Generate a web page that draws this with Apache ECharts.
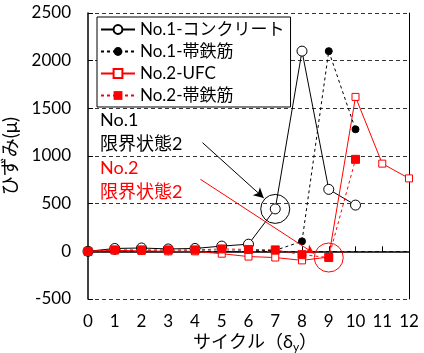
<!DOCTYPE html>
<html>
<head>
<meta charset="utf-8">
<script src="https://cdn.jsdelivr.net/npm/echarts@6/dist/echarts.min.js"></script>
<style>
  html, body { margin: 0; padding: 0; background: #fff; }
  #chart { width: 424px; height: 353px; }
</style>
</head>
<body>
<div id="chart"></div>
<script>
// Cycle number (multiples of the yield displacement δy)
const cycles = [0, 1, 2, 3, 4, 5, 6, 7, 8, 9, 10, 11, 12];

// Strain (μ) per cycle for each gauge
const no1Concrete = [0, 30, 35, 25, 30, 55, 75, 445, 2100, 650, 485];
const no1Hoop     = [0, 5, 5, 0, 5, 0, 5, 10, 105, 2100, 1280];
const no2UFC      = [0, 10, 5, 0, 0, -25, -55, -65, -95, -60, 1620, 920, 765];
const no2Hoop     = [0, 15, 15, 15, 15, 25, 20, 15, -35, -65, 965];

const seriesNames = ['No.1-コンクリート', 'No.1-帯鉄筋', 'No.2-UFC', 'No.2-帯鉄筋'];
const yTicks = { min: -500, max: 2500, step: 500 };

// cycle index at which limit state 2 is reached
const limitNo1 = 7;
const limitNo2 = 9;

const FONT = "Lato, 'Noto Sans CJK JP', sans-serif";
const RED = '#ff0000';

const pairs = vals => vals.map((v, i) => [cycles[i], v]);

const chart = echarts.init(document.getElementById('chart'), null, { renderer: 'canvas' });

const ringPoint = (x, y, color) => ({
  coord: [x, y],
  symbol: 'circle',
  symbolSize: 29,
  itemStyle: { color: 'rgba(0,0,0,0)', borderColor: color, borderWidth: 1 },
  label: { show: false }
});

chart.setOption({
  animation: false,
  textStyle: { fontFamily: FONT },
  grid: { left: 88, right: 15, top: 13, bottom: 54, containLabel: false, outerBoundsMode: 'none' },
  legend: {
    orient: 'vertical',
    left: 97, top: 17,
    padding: [4, 6, 3, 3],
    itemGap: 5,
    itemWidth: 34,
    itemHeight: 11,
    backgroundColor: '#fff',
    borderColor: '#000',
    borderWidth: 1,
    textStyle: { fontSize: 17, color: '#000', fontFamily: FONT },
    data: seriesNames
  },
  xAxis: {
    type: 'value',
    min: 0, max: 12, interval: 1,
    axisLine: { lineStyle: { color: '#000', width: 1.5 } },
    axisTick: { inside: true, length: 5, lineStyle: { color: '#000' } },
    axisLabel: { fontSize: 17, color: '#000', margin: 14, fontFamily: FONT },
    splitLine: { show: false }
  },
  yAxis: [{
    type: 'value',
    min: yTicks.min, max: yTicks.max, interval: yTicks.step,
    name: 'ひずみ(μ)',
    nameLocation: 'middle',
    nameGap: 54,
    nameRotate: 90,
    nameTextStyle: { fontSize: 19, color: '#000', fontFamily: FONT },
    axisLine: { show: true, lineStyle: { color: '#000', width: 1.5 } },
    axisTick: { show: true, inside: true, length: 5, lineStyle: { color: '#000' } },
    axisLabel: { fontSize: 17, color: '#000', margin: 17, fontFamily: FONT, formatter: v => String(v) },
    splitLine: { show: true, lineStyle: { color: '#333', type: [4, 3], width: 1 } }
  }, {
    type: 'value',
    position: 'right',
    min: yTicks.min, max: yTicks.max,
    axisLine: { show: true, lineStyle: { color: '#000', width: 1 } },
    axisTick: { show: false },
    axisLabel: { show: false },
    splitLine: { show: false }
  }],
  graphic: [
    {
      type: 'text', left: 100, top: 111,
      style: { text: 'No.1', fontSize: 18, fill: '#000', fontFamily: FONT }
    },
    {
      type: 'text', left: 100, top: 135,
      style: { text: '限界状態2', fontSize: 18, fill: '#000', fontFamily: FONT }
    },
    {
      type: 'text', left: 100, top: 159,
      style: { text: 'No.2', fontSize: 18, fill: RED, fontFamily: FONT }
    },
    {
      type: 'text', left: 100, top: 183,
      style: { text: '限界状態2', fontSize: 18, fill: RED, fontFamily: FONT }
    },
    {
      type: 'text', left: 193, top: 333,
      style: {
        text: '{a|サイクル（δ}{s|y}{a|）}',
        rich: {
          a: { fontSize: 18, fill: '#000', fontFamily: FONT },
          s: { fontSize: 12, fill: '#000', fontFamily: FONT, padding: [10, 0, 0, 0] }
        }
      }
    }
  ],
  series: [
    {
      name: seriesNames[0],
      type: 'line',
      data: pairs(no1Concrete),
      symbol: 'circle',
      symbolSize: 10,
      itemStyle: { color: '#fff', borderColor: '#000', borderWidth: 1 },
      lineStyle: { color: '#000', width: 1 },
      z: 2,
      markPoint: {
        silent: true,
        data: [ringPoint(cycles[limitNo1], no1Concrete[limitNo1], '#000')]
      },
      markLine: {
        silent: true,
        symbol: ['none', 'arrow'],
        symbolSize: [8, 10],
        label: { show: false },
        lineStyle: { color: '#000', type: 'solid', width: 1 },
        data: [[{ coord: [4.28, 1140] }, { coord: [6.57, 560] }]]
      }
    },
    {
      name: seriesNames[1],
      type: 'line',
      data: pairs(no1Hoop),
      symbol: 'circle',
      symbolSize: 7,
      itemStyle: { color: '#000', borderColor: '#000' },
      lineStyle: { color: '#000', width: 1, type: [3, 3] },
      z: 2
    },
    {
      name: seriesNames[2],
      type: 'line',
      data: pairs(no2UFC),
      symbol: 'rect',
      symbolSize: 7,
      itemStyle: { color: '#fff', borderColor: RED, borderWidth: 1 },
      lineStyle: { color: RED, width: 1 },
      z: 3
    },
    {
      name: seriesNames[3],
      type: 'line',
      data: pairs(no2Hoop),
      symbol: 'rect',
      symbolSize: 8,
      itemStyle: { color: RED, borderColor: RED },
      lineStyle: { color: RED, width: 1, type: [3, 3] },
      z: 4,
      markPoint: {
        silent: true,
        data: [ringPoint(cycles[limitNo2], no2Hoop[limitNo2], RED)]
      },
      markLine: {
        silent: true,
        symbol: ['none', 'arrow'],
        symbolSize: [7, 9],
        label: { show: false },
        lineStyle: { color: RED, type: 'solid', width: 1 },
        data: [[{ coord: [4.2, 756] }, { coord: [8.45, -22] }]]
      }
    }
  ]
});
</script>
</body>
</html>
